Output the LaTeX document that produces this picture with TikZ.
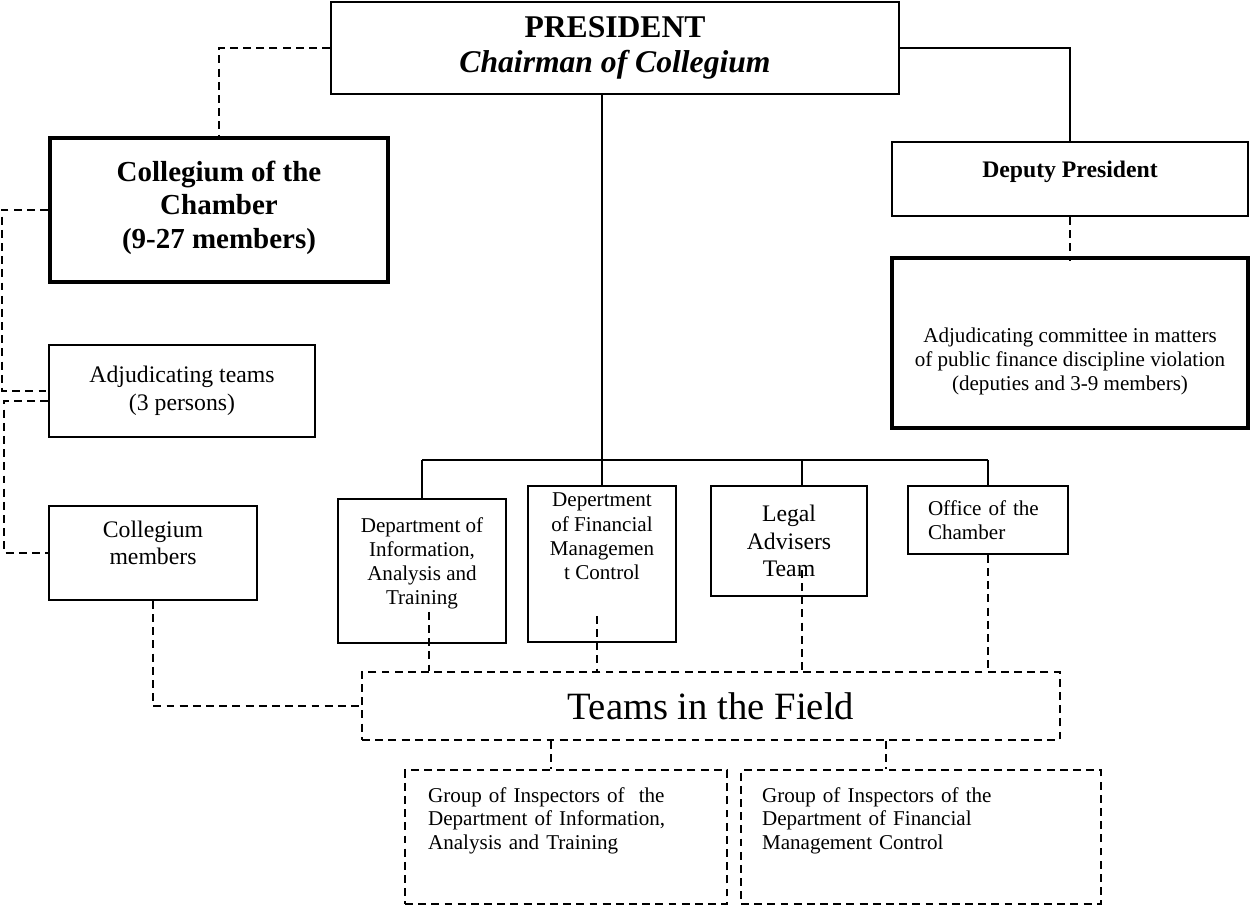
\documentclass[tikz,border=0pt]{standalone}
\usepackage{fontspec}
\setmainfont{Liberation Serif}
\usepackage{tikz}
\tikzstyle{unitbox} = [rectangle, draw=black, line width=1.1pt, inner sep=2pt, text centered, align=center]
\tikzstyle{heavybox} = [unitbox, line width=2.3pt]
\tikzstyle{fieldbox} = [rectangle, draw=black, line width=1.1pt, dash pattern=on 4.5pt off 3pt, inner sep=2pt, text centered, align=center]
\tikzstyle{solidlink} = [line width=1.1pt]
\tikzstyle{dashlink} = [line width=1.2pt, dash pattern=on 4.5pt off 3pt]

\begin{document}
\begin{tikzpicture}[x=0.02cm, y=-0.02cm]
	\useasboundingbox (0,0) rectangle (1251,908);

		% Draw the nodes
		\node (pres) [unitbox, minimum width=11.36cm, minimum height=1.84cm, font=\bfseries\fontsize{18}{20}\selectfont] at (615,48) {PRESIDENT\\\textit{Chairman of Collegium}};
		\node (coll) [heavybox, minimum width=6.76cm, minimum height=2.88cm, font=\bfseries\fontsize{16.5}{19}\selectfont] at (219,210) {Collegium of the\\Chamber\\(9-27 members)\\[-13pt]\mbox{}};
		\node (adjt) [unitbox, minimum width=5.32cm, minimum height=1.84cm, font=\fontsize{13.5}{16}\selectfont] at (182,391) {Adjudicating teams\\(3 persons)};
		\node (collm) [unitbox, minimum width=4.16cm, minimum height=1.88cm, font=\fontsize{13.5}{15.5}\selectfont] at (153,553) {Collegium\\members\\[-4pt]\mbox{}};
		\node (dep) [unitbox, minimum width=7.12cm, minimum height=1.48cm, font=\bfseries\fontsize{13.5}{15.5}\selectfont] at (1070,179) {Deputy President\\[-4pt]\mbox{}};
		\node (comm) [heavybox, minimum width=7.12cm, minimum height=3.4cm, font=\fontsize{12}{13.8}\selectfont] at (1070,343) {\mbox{}\\[15.6pt]Adjudicating committee in matters\\of public finance discipline violation\\(deputies and 3-9 members)};
		\node (dinf) [unitbox, minimum width=3.36cm, minimum height=2.88cm, font=\fontsize{12}{13.8}\selectfont] at (422,571) {Department of\\Information,\\Analysis and\\Training\\[-2.5pt]\mbox{}};
		\node (dfin) [unitbox, minimum width=2.96cm, minimum height=3.12cm, font=\fontsize{12}{13.8}\selectfont] at (602,564) {Depertment\\of Financial\\Managemen\\t Control\\[17.7pt]\mbox{}};
		\node (legal) [unitbox, minimum width=3.12cm, minimum height=2.2cm, font=\fontsize{13.5}{15.5}\selectfont] at (789,541) {Legal\\Advisers\\Team};
		\node (office) [unitbox, minimum width=3.2cm, minimum height=1.36cm, text width=2.4cm, inner xsep=0.4cm, align=left, font=\fontsize{12}{13.3}\selectfont] at (988,520) {Office of the\\Chamber};
		\node (teams) [fieldbox, minimum width=13.96cm, minimum height=1.36cm, font=\fontsize{22}{26}\selectfont] at (711,706) {Teams in the Field};
		\node (grp1) [fieldbox, minimum width=6.44cm, minimum height=2.68cm, text width=5.52cm, inner xsep=0.46cm, align=left, font=\fontsize{12}{13.3}\selectfont] at (566,837) {Group of Inspectors of\ \ the\\Department of Information,\\Analysis and Training\\[8pt]\mbox{}};
		\node (grp2) [fieldbox, minimum width=7.2cm, minimum height=2.68cm, text width=6.36cm, inner xsep=0.42cm, align=left, font=\fontsize{12}{13.3}\selectfont] at (921,837) {Group of Inspectors of the\\Department of Financial\\Management Control\\[8pt]\mbox{}};

		\coordinate (bar) at (604,460);
		\coordinate (lane1) at (2,0);
		\coordinate (lane2) at (4,0);

		%Draw the lines
		\draw [solidlink] (pres.south -| dfin.north) -- (dfin.north);
		\draw [solidlink] (dinf.north |- bar) -- (office.north |- bar);
		\draw [solidlink] (dinf.north |- bar) -- (dinf.north);
		\draw [solidlink] ([xshift=0.26cm]legal.north |- bar) -- ([xshift=0.26cm]legal.north);
		\draw [solidlink] (office.north |- bar) -- (office.north);
		\draw [solidlink] (pres.east) -| (dep.north);

		\draw [dashlink] (pres.west) -| (coll.north);
		\draw [dashlink] (coll.west) -- (coll.west -| lane1) |- (adjt.west);
		\draw [dashlink] ([yshift=-0.2cm]adjt.west) -- ([yshift=-0.2cm]adjt.west -| lane2) |- (collm.west);
		\draw [dashlink] (collm.south) |- (teams.west);
		\draw [dashlink] (dep.south) -- ([yshift=-0.1cm]comm.north);
		\draw [dashlink] ([xshift=0.14cm,yshift=0.64cm]dinf.south) -- ([xshift=0.14cm]dinf.south |- teams.north);
		\draw [dashlink] ([xshift=-0.1cm,yshift=0.54cm]dfin.south) -- ([xshift=-0.1cm]dfin.south |- teams.north);
		\draw [dashlink] ([xshift=0.26cm,yshift=0.54cm]legal.south) -- ([xshift=0.26cm]legal.south |- teams.north);
		\draw [dashlink] (office.south) -- (office.south |- teams.north);
		\draw [dashlink] ([xshift=-0.3cm]teams.south -| grp1.north) -- ([xshift=-0.3cm]grp1.north);
		\draw [dashlink] ([xshift=-0.7cm]teams.south -| grp2.north) -- ([xshift=-0.7cm]grp2.north);

\end{tikzpicture}
\end{document}
